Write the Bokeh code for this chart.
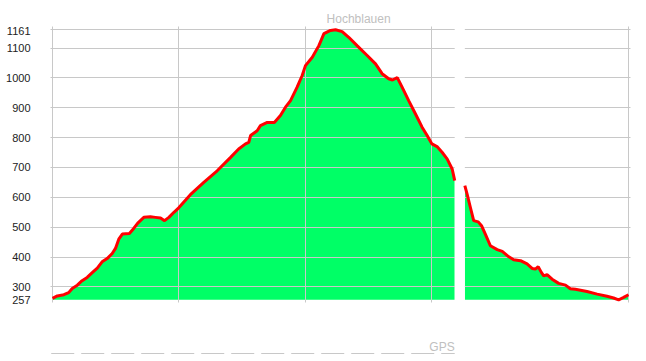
from bokeh.plotting import figure
from bokeh.models import Range1d, FixedTicker, BoxAnnotation, Label, ColumnDataSource
from bokeh.layouts import column
from bokeh.embed import file_html
from bokeh.resources import INLINE

# --- data (distance in km, elevation in m) ---
seg1_km = [0.00, 0.19, 0.45, 0.64, 0.78, 0.98, 1.17, 1.37, 1.57, 1.77, 1.96, 2.16, 2.36,
           2.49, 2.62, 2.76, 3.04, 3.21, 3.37, 3.61, 3.87, 4.07, 4.27, 4.43, 4.60, 4.80,
           4.99, 5.45, 5.98, 6.51, 7.04, 7.36, 7.63, 7.76, 7.83, 8.09, 8.22, 8.49, 8.77,
           9.01, 9.21, 9.41, 9.67, 9.87, 10.00, 10.27, 10.53, 10.73, 10.99, 11.19, 11.45,
           11.71, 12.04, 12.44, 12.77, 13.03, 13.29, 13.44, 13.63, 13.82, 14.08, 14.35,
           14.61, 14.81, 15.00, 15.20, 15.40, 15.60, 15.80, 15.90]
seg1_elev = [262, 270, 274, 281, 295, 306, 321, 332, 348, 363, 384, 395, 412,
             429, 460, 477, 479, 496, 514, 533, 535, 533, 531, 522, 533, 550,
             565, 609, 650, 689, 734, 762, 779, 784, 807, 823, 840, 851, 851,
             874, 902, 924, 969, 1008, 1041, 1069, 1108, 1148, 1159, 1161, 1155,
             1136, 1108, 1075, 1047, 1014, 997, 993, 1001, 969, 924, 879,
             835, 807, 779, 770, 751, 729, 695, 656]
seg2_km = [16.30, 16.39, 16.52, 16.65, 16.83, 16.96, 17.11, 17.31, 17.58, 17.78, 18.04,
           18.23, 18.50, 18.76, 18.96, 19.09, 19.20, 19.33, 19.42, 19.55, 19.75, 20.01,
           20.28, 20.47, 20.67, 21.13, 21.53, 21.92, 22.18, 22.38, 22.58, 22.77]
seg2_elev = [639, 611, 566, 522, 518, 505, 477, 438, 425, 419, 401,
             391, 388, 377, 362, 360, 368, 348, 337, 341, 326, 312,
             306, 294, 292, 285, 276, 269, 263, 257, 265, 274]
y_ticks = [257, 300, 400, 500, 600, 700, 800, 900, 1000, 1100, 1161]
grid_km = [0, 5, 10, 15]
peak_name = "Hochblauen"
source_name = "GPS"

GRID = "#c8c8c8"
GREEN = "#00ff66"
RED = "#ff0000"
LIGHT_TEXT = "#c0c0c0"

x_range = Range1d(seg1_km[0] - 0.079, seg2_km[-1] + 0.079)
y_range = Range1d(y_ticks[0] - 9.05, y_ticks[-1] + 11.06)


def strip(height):
    f = figure(width=646, height=height, x_range=x_range, y_range=Range1d(0, height),
               output_backend="svg", toolbar_location=None,
               x_axis_location=None, y_axis_location=None,
               min_border_left=50, min_border_right=16, min_border_top=0,
               min_border_bottom=0)
    f.outline_line_color = None
    f.grid.visible = False
    return f


# --- top strip: waypoint name ---
p0 = strip(26)
peak_idx = seg1_elev.index(max(seg1_elev))
p0.add_layout(Label(x=seg1_km[peak_idx], y=8, x_offset=-9,
                    text=peak_name, text_align="left", text_baseline="middle",
                    text_font="Liberation Sans", text_font_size="12px",
                    text_color=LIGHT_TEXT))

# --- main profile ---
p = figure(width=646, height=284, x_range=x_range, y_range=y_range,
           output_backend="svg", toolbar_location=None, x_axis_location=None,
           min_border_left=50, min_border_right=16, min_border_top=0, min_border_bottom=8)
p.outline_line_color = None
p.background_fill_color = "white"
p.border_fill_color = "white"

yax = p.yaxis[0]
yax.ticker = FixedTicker(ticks=y_ticks)
yax.axis_line_color = None
yax.major_tick_line_color = None
yax.minor_tick_line_color = None
yax.major_label_standoff = 14
yax.major_label_text_font = "Liberation Sans"
yax.major_label_text_font_size = "11px"
yax.major_label_text_color = "#222222"

p.xgrid.ticker = FixedTicker(ticks=grid_km + [seg2_km[-1]])
p.ygrid.ticker = FixedTicker(ticks=y_ticks[1:])
for g in (p.xgrid[0], p.ygrid[0]):
    g.grid_line_color = GRID
    g.grid_line_width = 1
    g.level = "guide"

for km, elev in ((seg1_km, seg1_elev), (seg2_km, seg2_elev)):
    src = ColumnDataSource(dict(km=km, elev=elev, base=[y_ticks[0]] * len(km)))
    p.varea(x="km", y1="base", y2="elev", source=src, fill_color=GREEN, fill_alpha=1.0)
    p.line(x="km", y="elev", source=src, line_color=RED, line_width=3, level="overlay")

gap = BoxAnnotation(left=seg1_km[-1], right=seg2_km[0], fill_color="white",
                    fill_alpha=1.0, line_color=None)
p.add_layout(gap)

# --- bottom strip: data source band ---
p2 = strip(51)
p2.line(x=[seg1_km[0] - 0.05, seg1_km[-1]], y=[8, 8], line_color=GRID,
        line_width=1, line_dash="23 7")
p2.add_layout(Label(x=seg1_km[-1], y=15, text=source_name, text_align="right",
                    text_baseline="middle", text_font="Liberation Sans",
                    text_font_size="12px", text_color=LIGHT_TEXT))

layout = column(p0, p, p2, spacing=0)
open("out.html", "w").write(file_html(layout, INLINE))
